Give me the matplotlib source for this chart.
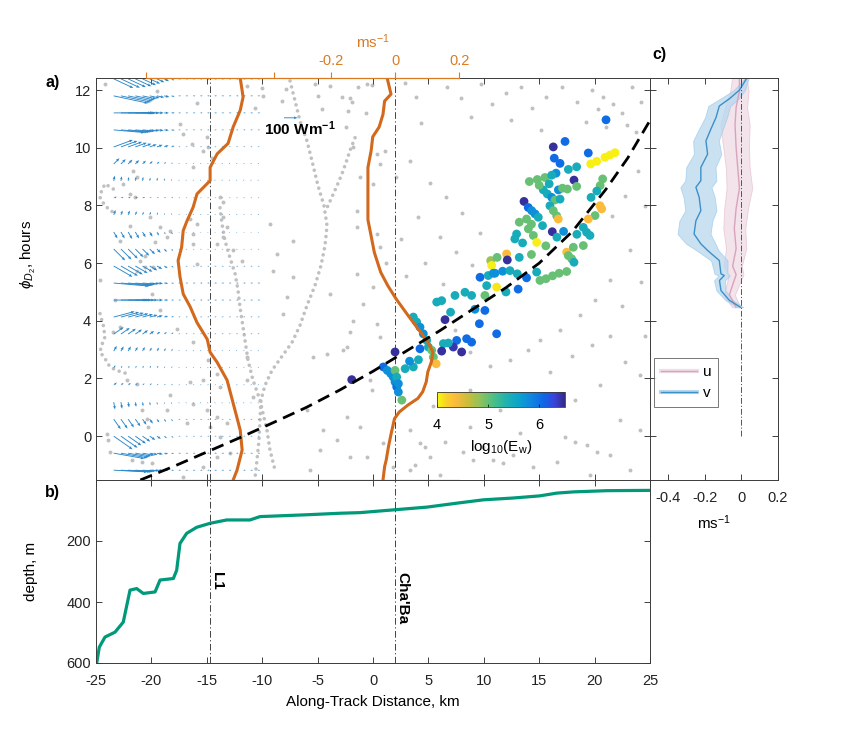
import numpy as np
import matplotlib
matplotlib.use('Agg')
import matplotlib.pyplot as plt
from matplotlib.colors import LinearSegmentedColormap
from matplotlib.lines import Line2D
import matplotlib.patheffects as pe

plt.rcParams['font.family'] = ['Liberation Sans', 'DejaVu Sans']
plt.rcParams['axes.unicode_minus'] = False
plt.rcParams['mathtext.fontset'] = 'custom'
plt.rcParams['mathtext.rm'] = 'Liberation Sans'
plt.rcParams['mathtext.it'] = 'Liberation Sans:italic'
plt.rcParams['mathtext.bf'] = 'Liberation Sans:bold'

# ---------------- data ----------------
l1_km = -14.7
chaba_km = 2.0
km_per_ms = 28.9          # overlay velocity axis: 1 m/s spans this many km

# semidiurnal energy flux arrows (W/m), rows = phase hours, columns = km
quiver_h = [-1.18, -0.59, 0.0, 0.59, 1.18, 1.77, 2.36, 2.95, 3.54, 4.13, 4.72, 5.31,
            5.90, 6.49, 7.08, 7.67, 8.26, 8.85, 9.44, 10.03, 10.62, 11.21, 11.80, 12.39]
quiver_km = [-23.4, -22.75, -22.1, -21.45, -20.8, -20.15, -19.5, -18.85, -18.2, -17.55, -16.9,
             -16.25, -15.6, -14.95, -14.3, -13.65, -13.0, -12.35, -11.7, -11.05, -10.4]
flux_near = [
    [250, 220, 180, 140, 100, 70, 45, 30, 20],
    [230, 200, 160, 120, 90, 60, 45, 30, 20],
    [170, 150, 120, 95, 70, 50, 35, 25, 20],
    [90, 85, 75, 65, 50, 40, 30, 25, 20],
    [55, 50, 40, 35, 30, 25, 20, 15, 15],
    [30, 25, 25, 20, 20, 20, 15, 15, 15],
    [25, 20, 20, 20, 20, 20, 20, 15, 15],
    [45, 40, 40, 35, 35, 30, 30, 25, 20],
    [90, 80, 70, 60, 50, 40, 30, 25, 20],
    [160, 140, 120, 100, 80, 60, 45, 30, 20],
    [240, 200, 160, 120, 90, 60, 45, 30, 20],
    [260, 220, 180, 140, 100, 70, 45, 30, 20],
    [160, 145, 125, 105, 85, 65, 45, 30, 20],
    [120, 110, 100, 85, 70, 55, 40, 30, 20],
    [55, 55, 60, 55, 45, 40, 30, 20, 20],
    [40, 35, 35, 30, 25, 25, 20, 15, 15],
    [25, 20, 20, 20, 20, 15, 15, 15, 15],
    [40, 35, 30, 30, 30, 25, 25, 20, 15],
    [60, 50, 45, 40, 35, 30, 25, 20, 15],
    [150, 130, 110, 90, 70, 55, 45, 35, 25],
    [230, 200, 165, 130, 95, 70, 50, 35, 25],
    [280, 240, 190, 140, 100, 70, 50, 35, 25],
    [260, 225, 185, 145, 105, 75, 55, 40, 25],
    [160, 155, 145, 130, 110, 85, 60, 40, 25],
]
flux_near_dir = [-3, -10, -35, -55, -80, 40, 60, 60, 35, 15, 0, -5,
                 -30, -45, -60, 70, 20, 80, 45, 20, -5, 0, -12, -25]
flux_far = [18, 18, 15, 15, 12, 12, 12, 12, 14, 15, 18, 18, 15, 12, 10, 12, 12, 12, 12, 14, 16, 18, 18, 16]
flux_far_dir = [0, 0, 0, -10, -60, 30, 50, 50, 20, 10, 0, 0, -10, -20, -30, 40, 10, 60, 40, 10, 0, 0, 0, -10]

# velocity profiles (m/s) at the two moorings
l1_h = [12.42, 11.76, 11.3, 10.72, 10.15, 9.79, 9.32, 8.86, 8.4, 7.94, 7.47, 7.13, 6.55, 6.09,
        5.52, 4.93, 4.49, 3.94, 3.36, 2.91, 2.56, 1.94, 1.14, 0.21, -0.48, -1.18, -1.52]
l1_u = [0.094, 0.103, 0.094, 0.072, 0.056, 0.022, 0.0, 0.0, -0.041, -0.053, -0.072, -0.084, -0.089,
        -0.1, -0.094, -0.084, -0.0625, -0.041, -0.009, 0.0, 0.022, 0.053, 0.072, 0.094, 0.1, 0.084, 0.072]
chaba_h = [12.42, 11.86, 11.62, 11.16, 10.72, 10.38, 9.9, 9.32, 8.52, 7.5, 6.94, 6.37, 5.68, 5.22,
           4.76, 4.19, 3.73, 3.27, 2.92, 2.57, 2.23, 1.88, 1.54, 1.31, 1.08, 0.84, 0.61, 0.09,
           -0.37, -0.83, -1.06, -1.52]
chaba_u = [-0.025, -0.013, -0.033, -0.038, -0.05, -0.07, -0.075, -0.085, -0.085, -0.085, -0.075,
           -0.065, -0.045, -0.023, 0.003, 0.04, 0.071, 0.102, 0.118, 0.113, 0.102, 0.097, 0.086,
           0.071, 0.04, 0.013, -0.002, -0.0125, -0.021, -0.028, -0.033, -0.038]

# phase line (dashed)
phase_km = [-21, -18, -15, -12, -9, -6, -3, 0, 3, 6, 9, 12, 15, 18, 21, 23, 25]
phase_h = [-1.52, -1.05, -0.55, -0.05, 0.47, 1.0, 1.6, 2.25, 2.95, 3.65, 4.4, 5.15, 6.0, 7.1,
           8.55, 9.65, 10.95]

# gray dotted tracks
curve_a = [(-7.49, 12.32), (-7.04, 11.63), (-6.59, 10.93), (-5.96, 10.24), (-5.51, 9.55), (-4.96, 8.68),
           (-4.42, 7.99), (-4.15, 7.3), (-4.33, 6.61), (-4.69, 5.92), (-5.23, 5.23), (-5.96, 4.53),
           (-6.59, 3.84), (-7.31, 3.25), (-8.21, 2.77), (-9.12, 2.28), (-9.75, 1.76), (-10.11, 1.25),
           (-10.2, 0.55), (-10.29, -0.14), (-10.47, -0.83), (-10.65, -1.45)]
curve_b = [(-1.62, 10.35), (-2.08, 9.9), (-2.44, 9.48), (-2.8, 9.1), (-3.25, 8.68), (-3.7, 8.3), (-4.15, 7.92)]
curve_c = [(-13.81, 7.92), (-13.63, 7.37), (-13.36, 6.78), (-12.91, 6.19), (-12.45, 5.64), (-12.18, 5.05),
           (-12.0, 4.46), (-11.82, 4.01), (-11.55, 3.32), (-11.28, 2.63), (-10.83, 1.94), (-10.2, 1.25),
           (-9.93, 0.8), (-9.57, 0.21), (-9.3, -0.48), (-8.84, -1.18)]
curve_f1 = [(-23.44, 8.57), (-24.19, 8.75), (-24.55, 8.45), (-24.64, 8.28), (-24.28, 8.05), (-23.74, 7.82),
            (-23.04, 7.71)]
curve_f2 = [(-24.64, 4.25), (-24.34, 3.84), (-24.19, 3.44), (-24.49, 3.15), (-24.64, 2.92), (-24.19, 2.69),
            (-23.74, 2.4), (-23.13, 2.28), (-22.23, 2.17)]

gray_top = [(-11.37, 12.14), (-10.02, 12.07), (-9.93, 11.8), (-10.65, 11.38), (-8.21, 11.63), (-7.85, 12.04),
            (-3.88, 12.15), (-2.8, 11.76), (-1.9, 11.59), (-1.35, 12.11), (-0.09, 12.18), (-0.63, 11.21),
            (-2.44, 10.73), (2.89, 12.25), (3.88, 11.76), (4.33, 10.87), (6.68, 12.11), (7.94, 11.73),
            (9.75, 12.21), (10.74, 11.52), (12.0, 11.9), (13.36, 12.11), (14.35, 11.38), (15.61, 11.76),
            (17.06, 12.11), (18.41, 11.59), (19.77, 12.01), (20.76, 11.76), (21.66, 11.52), (22.47, 11.21),
            (22.92, 10.8), (23.74, 10.55), (21.03, 10.73), (24.19, 11.59), (23.38, 12.11), (8.84, 11.07),
            (12.45, 10.97), (15.16, 10.62), (19.22, 10.9), (20.31, 11.35), (-5.23, 12.21), (-4.96, 11.8),
            (-4.6, 11.35), (-2.08, 11.74), (-2.23, 11.28), (-0.57, 12.2)]
gray_right = [(1.08, 9.9), (2.08, 9.0), (3.34, 9.55), (5.14, 8.79), (6.59, 8.3), (8.03, 7.75), (9.66, 7.06),
              (4.06, 7.61), (6.05, 6.92), (7.49, 6.37), (8.93, 5.92), (2.53, 6.85), (1.17, 6.02), (2.98, 5.54),
              (4.69, 6.02), (6.32, 5.29), (23.2, 6.44), (24.19, 5.33), (22.47, 4.53), (24.55, 3.49),
              (23.92, 9.2), (24.55, 7.99), (21.57, 7.65), (22.74, 8.34), (21.39, 5.4), (20.04, 4.71),
              (18.68, 4.19), (16.88, 3.67), (15.07, 3.32)]
gray_low = [(5.42, 1.04), (6.5, -0.21), (4.69, -0.38), (8.12, -0.55), (8.75, 0.31), (9.03, -0.83),
            (9.93, -0.38), (10.83, -0.83), (11.73, -0.93), (12.64, -0.66), (13.27, 0.1), (14.44, -1.07),
            (16.61, -0.9), (17.33, -0.03), (18.23, -0.21), (19.31, -0.31), (20.22, -0.55), (7.4, 3.67),
            (8.75, 2.91), (10.56, 2.42), (12.36, 2.63), (13.99, 2.98), (15.97, 2.21), (17.96, 2.77),
            (19.77, 3.15), (21.39, 3.49), (22.74, 2.56), (24.1, 2.11), (20.49, 1.76), (18.23, 1.25),
            (15.52, 1.42), (22.29, 0.55), (24.1, 0.21), (23.2, -1.18), (21.39, -0.66), (8.75, 1.59),
            (11.46, 0.9), (3.79, -1.0), (6.05, -1.35), (19.58, -1.35)]
gray_mid = [(-1.47, 7.82), (-1.47, 7.24), (-1.78, 4.01), (0.03, 5.17), (-4.18, 2.86), (-2.37, 3.09),
            (-3.88, 4.94), (-2.08, 3.61), (-0.88, 4.59), (-2.68, 2.98), (-5.39, 2.74), (0.33, 3.9),
            (0.63, 3.44), (-0.27, 1.94), (-0.12, 1.59), (-2.37, 0.67), (-1.17, 0.32), (-4.48, 0.21),
            (-3.28, -0.14), (-4.78, -0.48), (-2.08, -0.72), (-0.57, -0.72), (0.93, -0.25), (3.34, 0.21),
            (4.24, -0.25), (5.14, -0.72), (3.34, -1.18), (1.81, -1.06), (-5.69, -1.18), (-5.98, 0.9),
            (-1.17, 8.97), (-1.78, 10.01), (0.33, 9.78), (0.63, 9.44), (0.03, 8.74), (0.33, 7.01),
            (0.63, 6.55), (-1.47, 5.63), (-7.19, 6.78), (-9.3, 7.36), (-8.69, 6.32), (-9.0, 5.74),
            (-7.79, 4.82), (-7.19, 5.51), (-8.09, 4.25)]
gray_left = [(-15.01, 10.36), (-14.86, 10.01), (-15.32, 9.9), (-14.56, 9.66), (-16.22, 9.32), (-16.36, 10.13),
             (-17.42, 10.82), (-17.12, 10.47), (-15.91, 11.57), (-13.81, 8.28), (-13.51, 8.11), (-13.51, 7.59),
             (-13.2, 7.24), (-15.91, 7.36), (-16.52, 7.53), (-16.22, 7.01), (-13.51, 6.9), (-12.61, 6.44),
             (-14.11, 6.67), (-11.85, 6.09), (-15.91, 5.98), (-16.22, 6.67), (-14.86, 2.63), (-14.11, 2.17),
             (-13.81, 1.71), (-15.32, 1.94), (-16.22, 1.13), (-15.01, 0.9), (-14.11, 0.67), (-13.2, 0.44),
             (-14.71, 0.32), (-13.81, -0.02), (-12.91, -0.6), (-14.11, -0.72), (-15.32, -1.06),
             (-17.12, -1.41), (-10.8, 1.36), (-11.4, 1.94), (-11.4, 2.74), (-16.81, 0.44), (-18.32, 1.42),
             (-18.62, 0.9), (-16.52, 1.88), (-16.22, 3.26), (-17.72, 3.73), (-19.97, 4.94), (-19.22, 4.36)]
gray_far = [(-24.19, 12.2), (-19.52, 11.97), (-21.63, 9.2), (-21.33, 8.97), (-22.54, 8.74), (-21.93, 8.4),
            (-21.48, 8.28), (-20.13, 7.59), (-19.22, 7.24), (-18.32, 7.13), (-18.62, 6.9), (-19.68, 6.72),
            (-20.58, 6.26), (-20.58, 5.86), (-19.83, 5.86), (-21.33, 5.74), (-23.44, 3.61), (-22.83, 3.78),
            (-22.23, 1.94), (-21.33, 1.82), (-20.88, 0.9), (-20.42, 0.61), (-23.89, -0.14), (-24.03, 0.09),
            (-20.28, 0.32), (-23.74, -0.54), (-21.78, -0.83), (-20.88, -0.89), (-19.97, -0.94),
            (-21.93, 7.3), (-22.83, 6.78), (-21.03, 6.09), (-24.64, 5.4), (-23.29, 4.71)]

# ray points coloured by log10(Ew)
ew_points = [
    (21.03, 10.97, 6.05), (17.33, 10.22, 6.05), (16.27, 10.03, 6.45), (19.43, 9.82, 6.05), (16.36, 9.64, 6.05),
    (16.88, 9.46, 6.05), (19.65, 9.44, 4.05), (20.19, 9.53, 4.05), (20.94, 9.67, 4.05), (21.39, 9.75, 4.05),
    (21.84, 9.83, 4.05), (17.63, 9.25, 5.45), (18.38, 9.34, 5.45), (16.52, 9.12, 5.75), (14.11, 8.83, 5.0),
    (14.83, 8.90, 5.0), (15.52, 8.97, 5.0), (16.13, 9.05, 5.45), (18.14, 8.88, 6.45), (20.73, 8.92, 5.0),
    (20.5, 8.69, 5.0), (20.2, 8.5, 5.45), (18.38, 8.66, 5.0), (17.54, 8.57, 5.0), (16.73, 8.54, 5.75),
    (15.37, 8.54, 5.45), (15.73, 8.4, 5.45), (16.13, 8.28, 5.75), (16.43, 8.19, 5.0), (16.88, 8.22, 5.45),
    (13.63, 8.14, 6.45), (14.01, 7.93, 6.05), (14.32, 7.82, 5.75), (14.62, 7.71, 5.75), (14.92, 7.59, 5.45),
    (15.97, 7.99, 5.45), (16.27, 7.82, 5.0), (16.58, 7.64, 5.0), (16.72, 7.53, 4.35), (19.68, 8.28, 5.45),
    (20.49, 7.99, 4.35), (20.64, 7.88, 4.35), (20.04, 7.65, 5.0), (19.43, 7.53, 4.35), (18.98, 7.24, 5.45),
    (19.28, 7.07, 5.45), (19.58, 6.96, 5.45), (13.2, 7.42, 5.0), (13.86, 7.53, 5.0), (14.02, 7.19, 5.0),
    (14.47, 6.96, 5.0), (14.77, 6.72, 4.05), (12.96, 7.01, 5.45), (12.8, 6.84, 5.45), (16.18, 7.09, 6.45),
    (17.48, 6.38, 4.35), (18.08, 6.55, 5.0), (18.98, 6.61, 5.0), (17.63, 6.26, 5.0), (17.93, 6.15, 5.0),
    (18.14, 6.03, 5.45), (12.06, 6.32, 4.35), (12.12, 6.11, 6.45), (10.62, 6.09, 4.8), (10.71, 5.92, 4.05),
    (9.66, 5.51, 6.05), (10.4, 5.57, 5.45), (11.01, 5.65, 5.75), (11.7, 5.72, 5.75), (12.36, 5.74, 5.45),
    (13.02, 5.63, 5.45), (13.86, 5.49, 6.05), (14.77, 5.69, 5.45), (15.07, 5.4, 5.0), (15.61, 5.46, 5.0),
    (16.21, 5.56, 5.0), (16.8, 5.65, 5.0), (17.48, 5.71, 5.0), (10.86, 5.65, 5.75), (10.26, 5.22, 5.45),
    (11.16, 5.17, 4.1), (10.1, 4.88, 5.0), (5.75, 4.65, 5.45), (6.2, 4.7, 5.45), (7.4, 4.88, 5.45),
    (8.3, 4.99, 5.45), (8.9, 4.88, 5.45), (10.1, 4.36, 6.05), (11.16, 3.55, 6.05), (8.45, 3.38, 6.05),
    (8.9, 3.26, 6.05), (7.55, 3.32, 6.05), (8.0, 2.92, 6.45), (7.25, 3.09, 6.4), (6.35, 3.21, 5.45),
    (6.8, 3.23, 5.45), (6.5, 4.04, 6.45), (6.2, 2.95, 6.45), (4.24, 3.03, 6.05), (5.0, 3.09, 5.45),
    (5.3, 2.98, 5.0), (5.45, 2.74, 5.0), (5.7, 2.51, 4.35), (3.64, 4.13, 5.45), (3.94, 3.96, 5.45),
    (4.24, 3.78, 5.75), (4.54, 3.55, 5.75), (4.85, 3.32, 5.45), (1.99, 2.92, 6.45), (-1.92, 1.96, 6.45),
    (0.93, 2.4, 6.05), (1.29, 2.28, 5.75), (1.6, 2.17, 5.75), (1.83, 2.05, 5.75), (1.99, 1.88, 5.75),
    (2.14, 1.71, 6.05), (2.29, 1.53, 5.75), (1.99, 2.28, 5.0), (2.14, 2.05, 5.45), (2.29, 1.82, 5.75),
    (2.9, 2.34, 5.45), (3.64, 2.4, 5.45), (2.6, 1.25, 5.0),
    (15.0, 8.7, 5.0), (15.9, 8.75, 5.45), (17.1, 8.6, 5.0), (14.3, 7.35, 5.0), (15.3, 7.3, 5.45),
    (17.2, 7.1, 5.75), (18.4, 7.0, 5.45), (13.5, 6.7, 5.45), (15.6, 6.6, 5.0), (16.6, 6.9, 5.45),
    (11.2, 6.2, 5.0), (13.2, 6.2, 5.45), (14.3, 6.3, 5.0), (12.0, 5.0, 5.45), (13.1, 5.1, 6.05),
    (7.0, 4.3, 5.45), (9.2, 4.4, 5.75), (9.6, 3.9, 6.05), (3.3, 2.6, 5.75), (4.1, 2.65, 5.45),
]

# bathymetry along track
bathy_km = [-24.94, -24.7, -24.19, -23.29, -22.54, -21.93, -21.33, -20.73, -19.67, -19.22, -18.02, -17.72,
            -17.42, -16.82, -15.91, -14.71, -13.2, -11.1, -10.2, -5.98, -2.98, -1.17, 1.83, 4.85, 7.56,
            9.96, 12.67, 15.07, 16.58, 18.08, 21.09, 25.0]
bathy_depth = [601, 548, 515, 499, 466, 361, 356, 372, 367, 328, 323, 296, 208, 175, 155, 142, 131, 131,
               120, 114, 109, 107, 98, 89, 76, 65, 59, 52, 43, 39, 35, 34]

# panel c: mean velocity profiles with spread
v_h = [12.42, 12.0, 11.7, 11.45, 11.05, 10.65, 10.24, 9.78, 9.32, 8.86, 8.63, 8.28, 7.82, 7.47, 7.01,
       6.67, 6.44, 6.09, 5.63, 5.57, 5.4, 5.05, 4.71, 4.47]
v_mean = [0.03, -0.011, -0.066, -0.121, -0.139, -0.167, -0.194, -0.185, -0.222, -0.222, -0.249, -0.231,
          -0.222, -0.249, -0.259, -0.222, -0.185, -0.121, -0.112, -0.094, -0.12, -0.112, -0.066, -0.005]
v_spread = [0.01, 0.03, 0.05, 0.06, 0.06, 0.065, 0.07, 0.075, 0.08, 0.085, 0.085, 0.085, 0.085, 0.09,
            0.09, 0.08, 0.06, 0.045, 0.035, 0.03, 0.03, 0.025, 0.02, 0.015]
u_h = [12.42, 11.97, 11.4, 10.8, 10.0, 9.3, 8.6, 7.9, 7.2, 6.5, 5.9, 5.6, 5.3, 4.9, 4.6, 4.47]
u_mean = [-0.011, -0.011, -0.029, -0.035, -0.029, -0.02, -0.011, -0.029, -0.039, -0.029, -0.048, -0.029,
          -0.045, -0.066, -0.04, -0.03]
u_spread = [0.04, 0.05, 0.06, 0.08, 0.07, 0.065, 0.07, 0.065, 0.06, 0.055, 0.05, 0.04, 0.035, 0.03,
            0.025, 0.02]

# ---------------- styles ----------------
gray = '#c0c0c0'
blue_q = '#2a86c8'
orange = '#d2691c'
orange_txt = '#dc7a22'
green_b = '#00997a'
spine_col = '#3a3a3a'

parula = LinearSegmentedColormap.from_list('parula', [
    (0.00, (0.208, 0.166, 0.529)), (0.08, (0.230, 0.260, 0.860)), (0.16, (0.060, 0.400, 0.900)),
    (0.26, (0.060, 0.520, 0.880)), (0.36, (0.040, 0.640, 0.800)), (0.46, (0.130, 0.700, 0.680)),
    (0.56, (0.300, 0.750, 0.520)), (0.66, (0.560, 0.760, 0.360)), (0.76, (0.800, 0.740, 0.230)),
    (0.86, (0.990, 0.730, 0.240)), (0.93, (0.970, 0.830, 0.150)), (1.00, (0.976, 0.983, 0.054))])
parula_r = parula.reversed()

fig = plt.figure(figsize=(8.54, 7.32), dpi=100)
W, H = 854, 732


def box(l, t, r, b):
    return [l / W, 1 - b / H, (r - l) / W, (b - t) / H]


ax_a = fig.add_axes(box(96, 78, 650, 480))
ax_b = fig.add_axes(box(96, 480, 650, 663))
ax_c = fig.add_axes(box(650, 78, 778, 480))

for ax in (ax_a, ax_b, ax_c):
    ax.tick_params(direction='in', length=4, width=0.6, top=True, right=True,
                   labelsize=10.5, colors='#222222')
    for s in ax.spines.values():
        s.set_linewidth(0.7)
        s.set_color(spine_col)

# ---------------- panel a ----------------
dot_style = dict(color=gray, lw=2.6, linestyle=(0, (0.01, 1.7)), dash_capstyle='round', zorder=1)
for crv in (curve_a, curve_b, curve_c, curve_f1, curve_f2):
    xs, ys = zip(*crv)
    ax_a.plot(xs, ys, **dot_style)
for grp in (gray_top, gray_right, gray_low, gray_mid, gray_left, gray_far):
    xs, ys = zip(*grp)
    ax_a.scatter(xs, ys, s=8, color=gray, linewidths=0, zorder=1)

QX, QY = np.meshgrid(quiver_km, quiver_h)
near = np.array(flux_near, dtype=float)
n_far = len(quiver_km) - near.shape[1]
mag = np.hstack([near, np.repeat(np.array(flux_far, float)[:, None], n_far, axis=1)])
ang = np.hstack([np.repeat(np.array(flux_near_dir, float)[:, None], near.shape[1], axis=1),
                 np.repeat(np.array(flux_far_dir, float)[:, None], n_far, axis=1)])
U = mag * np.cos(np.radians(ang))
V = mag * np.sin(np.radians(ang))
qstyle = dict(angles='uv', scale_units='inches', scale=740, units='dots', width=0.9,
              headwidth=3.2, headlength=4.0, headaxislength=3.6, minshaft=1.5,
              color=blue_q, zorder=2)
ax_a.quiver(QX, QY, U, V, **qstyle)
ax_a.quiver([-8.03], [11.04], [100], [0], **qstyle)
ax_a.text(-6.6, 10.66, '100 Wm$^{\\mathbf{-1}}$', fontsize=11, fontweight='bold', ha='center', va='center')

for xk in (l1_km, chaba_km):
    ax_a.axvline(xk, color='#222222', lw=0.6, linestyle=(0, (8, 3, 1.5, 3)), zorder=2)

ew_km, ew_h, ew_c = zip(*ew_points)
sc = ax_a.scatter(ew_km, ew_h, c=ew_c, cmap=parula_r, vmin=4, vmax=6.5, s=40, linewidths=0, zorder=3)

ax_a.plot(l1_km + np.array(l1_u) * km_per_ms, l1_h, color=orange, lw=2.2, zorder=4)
ax_a.plot(chaba_km + np.array(chaba_u) * km_per_ms, chaba_h, color=orange, lw=2.2, zorder=4)
ax_a.plot(phase_km, phase_h, color='black', lw=2.0, linestyle=(0, (4.5, 2.5)), zorder=5)

ax_a.set_xlim(-25, 25)
ax_a.set_ylim(-1.52, 12.42)
ax_a.set_xticks(np.arange(-25, 26, 5))
ax_a.set_yticks(np.arange(0, 13, 2))
ax_a.tick_params(labelbottom=False)
ax_a.set_ylabel('$\\phi_{D_2}$, hours', fontsize=11)
ax_a.yaxis.set_label_coords(-0.105, 0.56)


def km2ms(x):
    return (np.asarray(x) - chaba_km) / km_per_ms


def ms2km(u):
    return np.asarray(u) * km_per_ms + chaba_km


left0 = (l1_km - chaba_km) / km_per_ms
o_ticks = [left0 - 0.2, left0 + 0.2, -0.2, 0, 0.2]
for loc in ('top', 'bottom'):
    sec = ax_a.secondary_xaxis(loc, functions=(km2ms, ms2km))
    sec.set_zorder(6)
    if loc == 'top':
        sec.set_xticks(o_ticks, labels=['', '', '-0.2', '0', '0.2'])
        sec.set_xlabel('ms$^{-1}$', color=orange_txt, fontsize=11, labelpad=4)
    else:
        sec.set_xticks(o_ticks, labels=[''] * len(o_ticks))
    sec.tick_params(direction='out', length=4, width=0.8, colors=orange_txt, labelsize=10.5)
    for side in ('top', 'bottom'):
        sec.spines[side].set_color(orange_txt)
        sec.spines[side].set_linewidth(0.9)
        sec.spines[side].set_bounds(left0 - 0.2, 0.2)

cax = ax_a.inset_axes([0.6155, 0.1816, 0.231, 0.0373])
cb = fig.colorbar(sc, cax=cax, orientation='horizontal', ticks=[4, 5, 6])
cb.outline.set_linewidth(0.6)
cb.outline.set_edgecolor(spine_col)
cax.tick_params(direction='in', length=2, width=0.5, labelsize=10.5, pad=8)
cb.set_label('log$_{10}$(E$_\\mathrm{w}$)', fontsize=11, labelpad=4)

# ---------------- panel b ----------------
ax_b.plot(bathy_km, bathy_depth, color=green_b, lw=2.3)
for xk, name in ((l1_km, 'L1'), (chaba_km, "Cha'Ba")):
    ax_b.axvline(xk, color='#222222', lw=0.6, linestyle=(0, (8, 3, 1.5, 3)))
    ax_b.text(xk, 302, name, rotation=-90, ha='left', va='top', fontsize=11, fontweight='bold')
ax_b.set_xlim(-25, 25)
ax_b.set_ylim(600, 0)
ax_b.set_xticks(np.arange(-25, 26, 5))
ax_b.set_yticks([200, 400, 600])
ax_b.tick_params(axis='x', pad=8)
ax_b.set_xlabel('Along-Track Distance, km', fontsize=11, labelpad=5)
ax_b.set_ylabel('depth, m', fontsize=11)
ax_b.yaxis.set_label_coords(-0.105, 0.5)

# ---------------- panel c ----------------
v_col, v_fill = '#3d8fc6', '#b9d8ee'
u_col, u_fill = '#d9a3bb', '#f1dde7'
vm, vs = np.array(v_mean), np.array(v_spread)
um, us = np.array(u_mean), np.array(u_spread)
ax_c.fill_betweenx(u_h, um - us, um + us, color=u_fill, alpha=0.8, lw=0.6, edgecolor='#e6c3d3')
ax_c.fill_betweenx(v_h, vm - vs, vm + vs, color=v_fill, alpha=0.75, lw=0.6, edgecolor='#9ccbea')
ax_c.plot(um, u_h, color=u_col, lw=1.0)
ax_c.plot(vm, v_h, color=v_col, lw=1.0)
ax_c.plot([0, 0], [0, 12.42], color='#555555', lw=0.7, linestyle=(0, (6, 2, 1.2, 2)))
ax_c.set_xlim(-0.5, 0.2)
ax_c.set_ylim(-1.52, 12.42)
ax_c.set_xticks([-0.4, -0.2, 0, 0.2], labels=['-0.4', '-0.2', '0', '0.2'])
ax_c.set_yticks(np.arange(0, 13, 2))
ax_c.tick_params(labelleft=False)
ax_c.tick_params(axis='x', pad=8)
ax_c.set_xlabel('ms$^{-1}$', fontsize=11, labelpad=6)
h_u = Line2D([], [], color=u_col, lw=1.0,
             path_effects=[pe.Stroke(linewidth=3, foreground=u_fill), pe.Normal()])
h_v = Line2D([], [], color=v_col, lw=1.0,
             path_effects=[pe.Stroke(linewidth=3, foreground=v_fill), pe.Normal()])
leg = ax_c.legend([h_u, h_v], ['u', 'v'], loc='upper left', bbox_to_anchor=(0.005, 0.31),
                  fontsize=11, frameon=True, fancybox=False, handlelength=2.4,
                  borderpad=0.45, labelspacing=0.45, handletextpad=0.35, borderaxespad=0.2)
leg.get_frame().set_edgecolor('#555555')
leg.get_frame().set_linewidth(0.7)

# panel letters
fig.text(45 / W, 1 - 82 / H, 'a)', fontsize=11.5, fontweight='bold', va='center')
fig.text(45 / W, 1 - 492 / H, 'b)', fontsize=11.5, fontweight='bold', va='center')
fig.text(652 / W, 1 - 55 / H, 'c)', fontsize=11.5, fontweight='bold', va='center')

fig.savefig('out.png', dpi=100)
